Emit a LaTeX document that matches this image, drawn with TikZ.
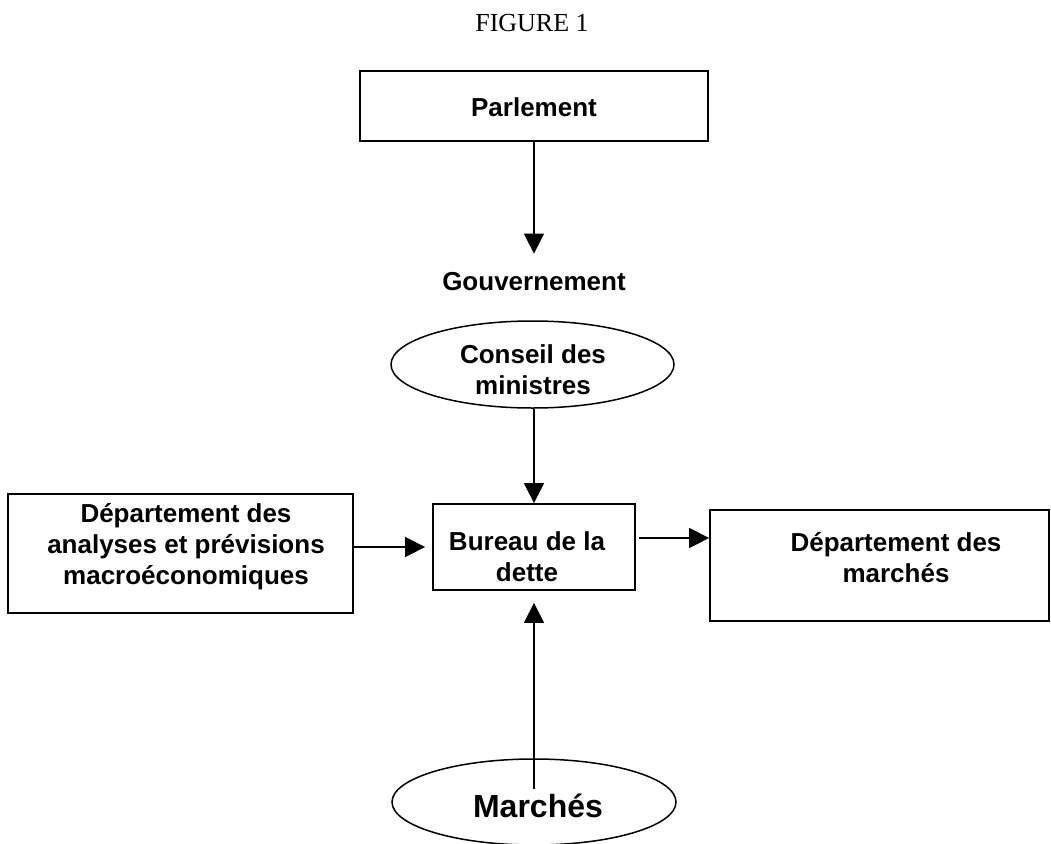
\documentclass[tikz,border=0pt]{standalone}
\usepackage{fontspec}
\setmainfont{Liberation Serif}
\setsansfont{Liberation Sans}
\usetikzlibrary{arrows.meta,shapes.geometric,calc}
\begin{document}
\begin{tikzpicture}[x=1pt,y=-1pt,
  lbl/.style={font=\sffamily\bfseries\fontsize{26}{31}\selectfont, align=center, inner sep=0pt},
  boxshape/.style={draw, line width=1.8pt, inner sep=0pt},
  ell/.style={draw, ellipse, line width=1.5pt, inner sep=0pt},
  arr/.style={line width=1.5pt, -{Triangle[length=20pt,width=20pt]}}]
\useasboundingbox (0,0) rectangle (1051,843);
\node[font=\fontsize{26}{30}\selectfont, inner sep=0pt] (fig) at (532,23) {FIGURE 1};
\node[boxshape, minimum width=348pt, minimum height=70pt] (parl) at (534,106) {};
\node[lbl] (parlt) at (534,107) {Parlement};
\node[lbl] (gouv) at (534,282) {Gouvernement};
\node[ell, minimum width=283pt, minimum height=87pt] (cons) at (532.5,364.5) {};
\node[lbl] (const) at (533,370) {Conseil des\\ministres};
\node[boxshape, minimum width=202pt, minimum height=86pt] (bur) at (534,547) {};
\node[lbl] (burt) at (527,557) {Bureau de la\\dette};
\node[boxshape, minimum width=345pt, minimum height=119pt] (left) at (180.5,553.5) {};
\node[lbl] (leftt) at (186,547) {Département des\\analyses et prévisions\\macroéconomiques};
\node[boxshape, minimum width=339pt, minimum height=111pt] (right) at (879.5,565.5) {};
\node[lbl] (rightt) at (896,558) {Département des\\marchés};
\node[ell, minimum width=284pt, minimum height=86pt] (march) at (534,802) {};
\node[font=\sffamily\bfseries\fontsize{32}{36}\selectfont, inner sep=0pt] (marcht) at (538,806) {Marchés};
\draw[arr, shorten >=19pt] (parl.south) -- (gouv.north);
\draw[arr] (cons.south -| bur.north) -- (bur.north);
\draw[arr, shorten >=7pt] (left.east |- bur.west) -- (bur.west);
\draw[arr, shorten <=3pt] ([yshift=9pt]bur.east) -- ([yshift=9pt]bur.east -| right.west);
\draw[arr, shorten <=13pt, shorten >=12pt] (march.center) -- (bur.south);
\end{tikzpicture}
\end{document}
